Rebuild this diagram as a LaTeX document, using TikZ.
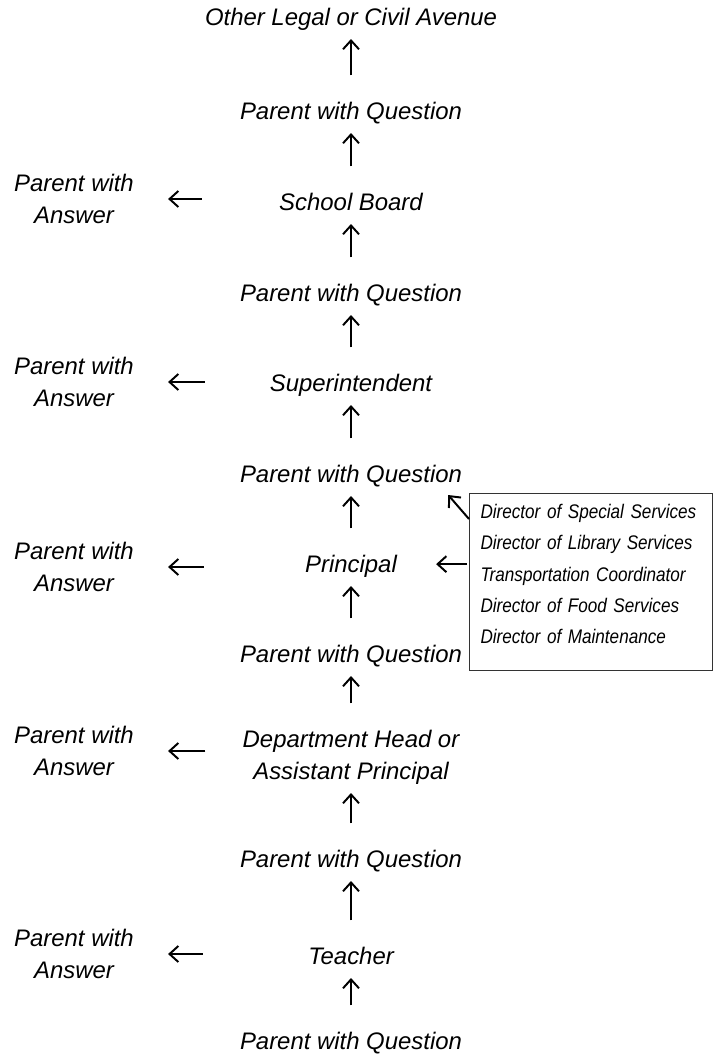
\documentclass[tikz,border=0pt]{standalone}
\usepackage{fontspec}
\setmainfont{Liberation Sans}
\newfontfamily\narrowsans{Liberation Sans}[FakeStretch=0.87]
\usetikzlibrary{arrows.meta}

\begin{document}
\begin{tikzpicture}[x=0.025cm, y=-0.025cm,
		lbl/.style={inner sep=0pt, text height=12.2pt, text depth=0pt, anchor=south,
			font=\fontsize{17}{22.76}\selectfont\itshape},
		lbl2/.style={lbl, align=center, text height=34.96pt},
		arr/.style={line width=1.4pt, -{Straight Barb[length=0.22cm,width=0.4cm]}},
		up/.style={arr, shorten >=0.325cm, shorten <=0.675cm},
		dirbox/.style={draw=black!80, line width=0.7pt, inner xsep=0.275cm, inner ysep=0.275cm,
			text width=5.525cm, align=left, text height=0.35cm, text depth=3.535cm,
			font=\narrowsans\fontsize{14}{22.3}\selectfont\itshape}]
		%%%%% START %%%%%
		
		\useasboundingbox (0, 0) rectangle (719, 1059);
		
		% main column
		\node[lbl] (other) at (351, 26) {Other Legal or Civil Avenue};
		\node[lbl] (pq6) at (351, 120) {Parent with Question};
		\node[lbl] (board) at (351, 211) {School Board};
		\node[lbl] (pq5) at (351, 302) {Parent with Question};
		\node[lbl] (super) at (351, 392) {Superintendent};
		\node[lbl] (pq4) at (351, 483) {Parent with Question};
		\node[lbl] (principal) at (351, 573) {Principal};
		\node[lbl] (pq3) at (351, 663) {Parent with Question};
		\node[lbl2] (dept) at (351, 780) {Department Head or\\Assistant Principal};
		\node[lbl] (pq2) at (351, 868) {Parent with Question};
		\node[lbl] (teacher) at (351, 965) {Teacher};
		\node[lbl] (pq1) at (351, 1050) {Parent with Question};
		
		% answers
		\node[lbl2, anchor=center] (ans5) at (74, 199) {Parent with\\Answer};
		\node[lbl2, anchor=center] (ans4) at (74, 382) {Parent with\\Answer};
		\node[lbl2, anchor=center] (ans3) at (74, 567) {Parent with\\Answer};
		\node[lbl2, anchor=center] (ans2) at (74, 751) {Parent with\\Answer};
		\node[lbl2, anchor=center] (ans1) at (74, 954) {Parent with\\Answer};
		
		% directors
		\node[dirbox, anchor=north west] (dirs) at (469, 493) {Director of Special Services\\
			Director of Library Services\\Transportation Coordinator\\
			Director of Food Services\\Director of Maintenance};
		
		\foreach \lo/\hi in {pq1/teacher, teacher/pq2, pq2/dept, dept/pq3, pq3/principal,
			principal/pq4, pq4/super, super/pq5, pq5/board, board/pq6, pq6/other}
			\draw[up] (\lo.north) -- (\hi.south);
		
		\foreach \m/\a/\s in {board/ans5/1.925cm, super/ans4/1.625cm, principal/ans3/2.525cm,
			dept/ans2/0.925cm, teacher/ans1/2.625cm}
			\draw[arr, shorten <=\s, shorten >=0.85cm] (\m.west |- \a.east) -- (\a.east);
		
		\draw[arr, shorten <=0.05cm, shorten >=0.975cm] (dirs.west |- principal) -- (principal.east);
		\draw[arr] ([yshift=-0.65cm]dirs.north west) -- ([xshift=-0.35cm, yshift=-0.3cm]pq4.south east);
		
		%%%%% END %%%%%
\end{tikzpicture}
\end{document}
